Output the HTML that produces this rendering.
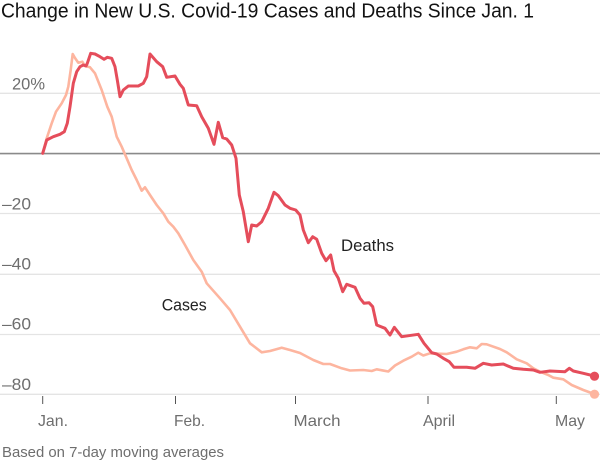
<!DOCTYPE html>
<html><head><meta charset="utf-8"><style>
html,body{margin:0;padding:0;background:#fff;}
svg{display:block;}
text{font-family:"Liberation Sans",sans-serif;}
</style></head><body>
<svg width="600" height="460" viewBox="0 0 600 460" xmlns="http://www.w3.org/2000/svg">
<text x="1" y="17.5" font-size="20" fill="#121212" textLength="533" lengthAdjust="spacingAndGlyphs">Change in New U.S. Covid-19 Cases and Deaths Since Jan. 1</text>
<g stroke="#e4e4e4" stroke-width="1.3">
<line x1="0" y1="93.3" x2="600" y2="93.3"/>
<line x1="0" y1="213.5" x2="600" y2="213.5"/>
<line x1="0" y1="274.3" x2="600" y2="274.3"/>
<line x1="0" y1="334.5" x2="600" y2="334.5"/>
<line x1="0" y1="394.3" x2="600" y2="394.3"/>
</g>
<line x1="0" y1="153.6" x2="600" y2="153.6" stroke="#8a8a8a" stroke-width="1.6"/>
<g font-size="16.5" fill="#6e6e6e">
<text x="12" y="89.5" textLength="33" lengthAdjust="spacingAndGlyphs">20%</text>
<text x="2" y="209.5" textLength="29" lengthAdjust="spacingAndGlyphs">–20</text>
<text x="2" y="269.5" textLength="29" lengthAdjust="spacingAndGlyphs">–40</text>
<text x="2" y="329.5" textLength="29" lengthAdjust="spacingAndGlyphs">–60</text>
<text x="2" y="390" textLength="29" lengthAdjust="spacingAndGlyphs">–80</text>
</g>
<g stroke="#555" stroke-width="1">
<line x1="42.7" y1="396" x2="42.7" y2="404"/>
<line x1="175.5" y1="396" x2="175.5" y2="404"/>
<line x1="295.5" y1="396" x2="295.5" y2="404"/>
<line x1="428" y1="396" x2="428" y2="404"/>
<line x1="556.3" y1="396" x2="556.3" y2="404"/>
</g>
<g font-size="16" fill="#6e6e6e">
<text x="38" y="426" textLength="30" lengthAdjust="spacingAndGlyphs">Jan.</text>
<text x="174" y="426" textLength="31" lengthAdjust="spacingAndGlyphs">Feb.</text>
<text x="293.5" y="426" textLength="47" lengthAdjust="spacingAndGlyphs">March</text>
<text x="423" y="426" textLength="32" lengthAdjust="spacingAndGlyphs">April</text>
<text x="555" y="426" textLength="30" lengthAdjust="spacingAndGlyphs">May</text>
</g>
<text x="2" y="457" font-size="15" fill="#6e6e6e" textLength="222" lengthAdjust="spacingAndGlyphs">Based on 7-day moving averages</text>
<polyline fill="none" stroke="#fdb59f" stroke-width="2.6" stroke-linejoin="round" stroke-linecap="round" points="42.7,153.3 46.7,138.3 51.7,123.3 56,111.7 61.7,103.3 66,95 68.3,86.7 70.7,70 72.7,54 75,58 78.3,62.7 82.3,61.7 85,66 90,67.3 95,73.3 101.7,90 107.3,106.7 111.7,116.7 116.7,136.7 121.7,146.7 126,156.7 131.7,170 136.7,180 141.7,190.7 145,187.3 150,195 156.7,205 163.3,213.3 168.3,221.7 173.3,226.7 178.3,233.3 185,245 193.3,260 201.7,271.7 206.7,283.3 220,298.3 230,310 240,326.7 250,343.3 261.7,352.3 270,351 281.7,347.7 290,350 300,353 313.3,360 323.3,364 330,364 341.7,368.3 350,370.5 363.3,370 371.7,371 376.7,369.3 388.3,371.5 395,365.5 403.3,360.7 411.7,356.7 418.3,352.7 423.3,355.5 430,353.3 446.7,354 456.7,351.7 463.3,349.3 470,347.3 476.7,348.3 481.7,344 486.7,344.3 500,349 506.7,352.3 516.7,359.3 526.7,363.3 533.3,368.3 540,371.7 548.3,375 553.3,377.7 563.3,379.3 571.7,385 583.3,390 594.3,394"/>
<circle cx="594.5" cy="394.2" r="4.6" fill="#fdb59f"/>
<polyline fill="none" stroke="#e54d5b" stroke-width="3" stroke-linejoin="round" stroke-linecap="round" points="42.7,153.3 46.7,140 53.3,136.7 60,134.3 64.3,131.7 67.3,123.3 70,106.7 73.3,83.3 76.7,71.7 80,66.7 83.3,65 86,66 87.3,63.3 90.7,53.3 95,54 100,56.7 104,59.3 107.3,57.3 111.7,58.3 115,66.7 117.3,80 120,96.7 123.3,90 128.3,86 138.3,86 143.3,83.3 146.7,76.7 150,54 156.7,61.7 162.7,66.7 166.7,77.3 175,76 180,84.3 183.3,88.3 188.3,105 196.7,105.7 201.7,116.7 208.3,128.3 214,144.3 218.3,122.3 222.7,137.7 226.7,139 231.7,145 236,158.3 239.3,195 243.3,211.7 248.3,241.7 251.7,225 256.7,226 261.7,221.7 268.3,208.3 274,192.3 278.3,195.7 285,205 290,208.3 295.7,210 300,215 303.3,230 308.3,242.7 312.7,236.7 316.7,239.3 321.7,253.3 326,260.7 330.7,255 334,270.7 338.3,278.3 342.7,291.7 346.7,284.3 355,287.3 360,298.3 364,303.3 369,302.7 372.7,306.7 376.7,325 385,328.3 390,335 394.3,327.3 401.7,336.7 418.3,334.3 424,343.3 431.7,352.7 436.7,354 443.3,358.3 449.3,361.7 454,367.3 466.7,367.3 475,368.3 483.3,363.3 491.7,365 503.3,364 513.3,368.3 523.3,369.3 533.3,370 540,372.3 550,371 565,371.7 569.3,368.3 573.3,371 583.3,373.3 594.3,376"/>
<circle cx="594.5" cy="376.2" r="4.6" fill="#e54d5b"/>
<text x="341" y="251" font-size="16.7" fill="#222" textLength="53" lengthAdjust="spacingAndGlyphs">Deaths</text>
<text x="161.7" y="310.7" font-size="16.7" fill="#222" textLength="45" lengthAdjust="spacingAndGlyphs">Cases</text>
</svg>
</body></html>
